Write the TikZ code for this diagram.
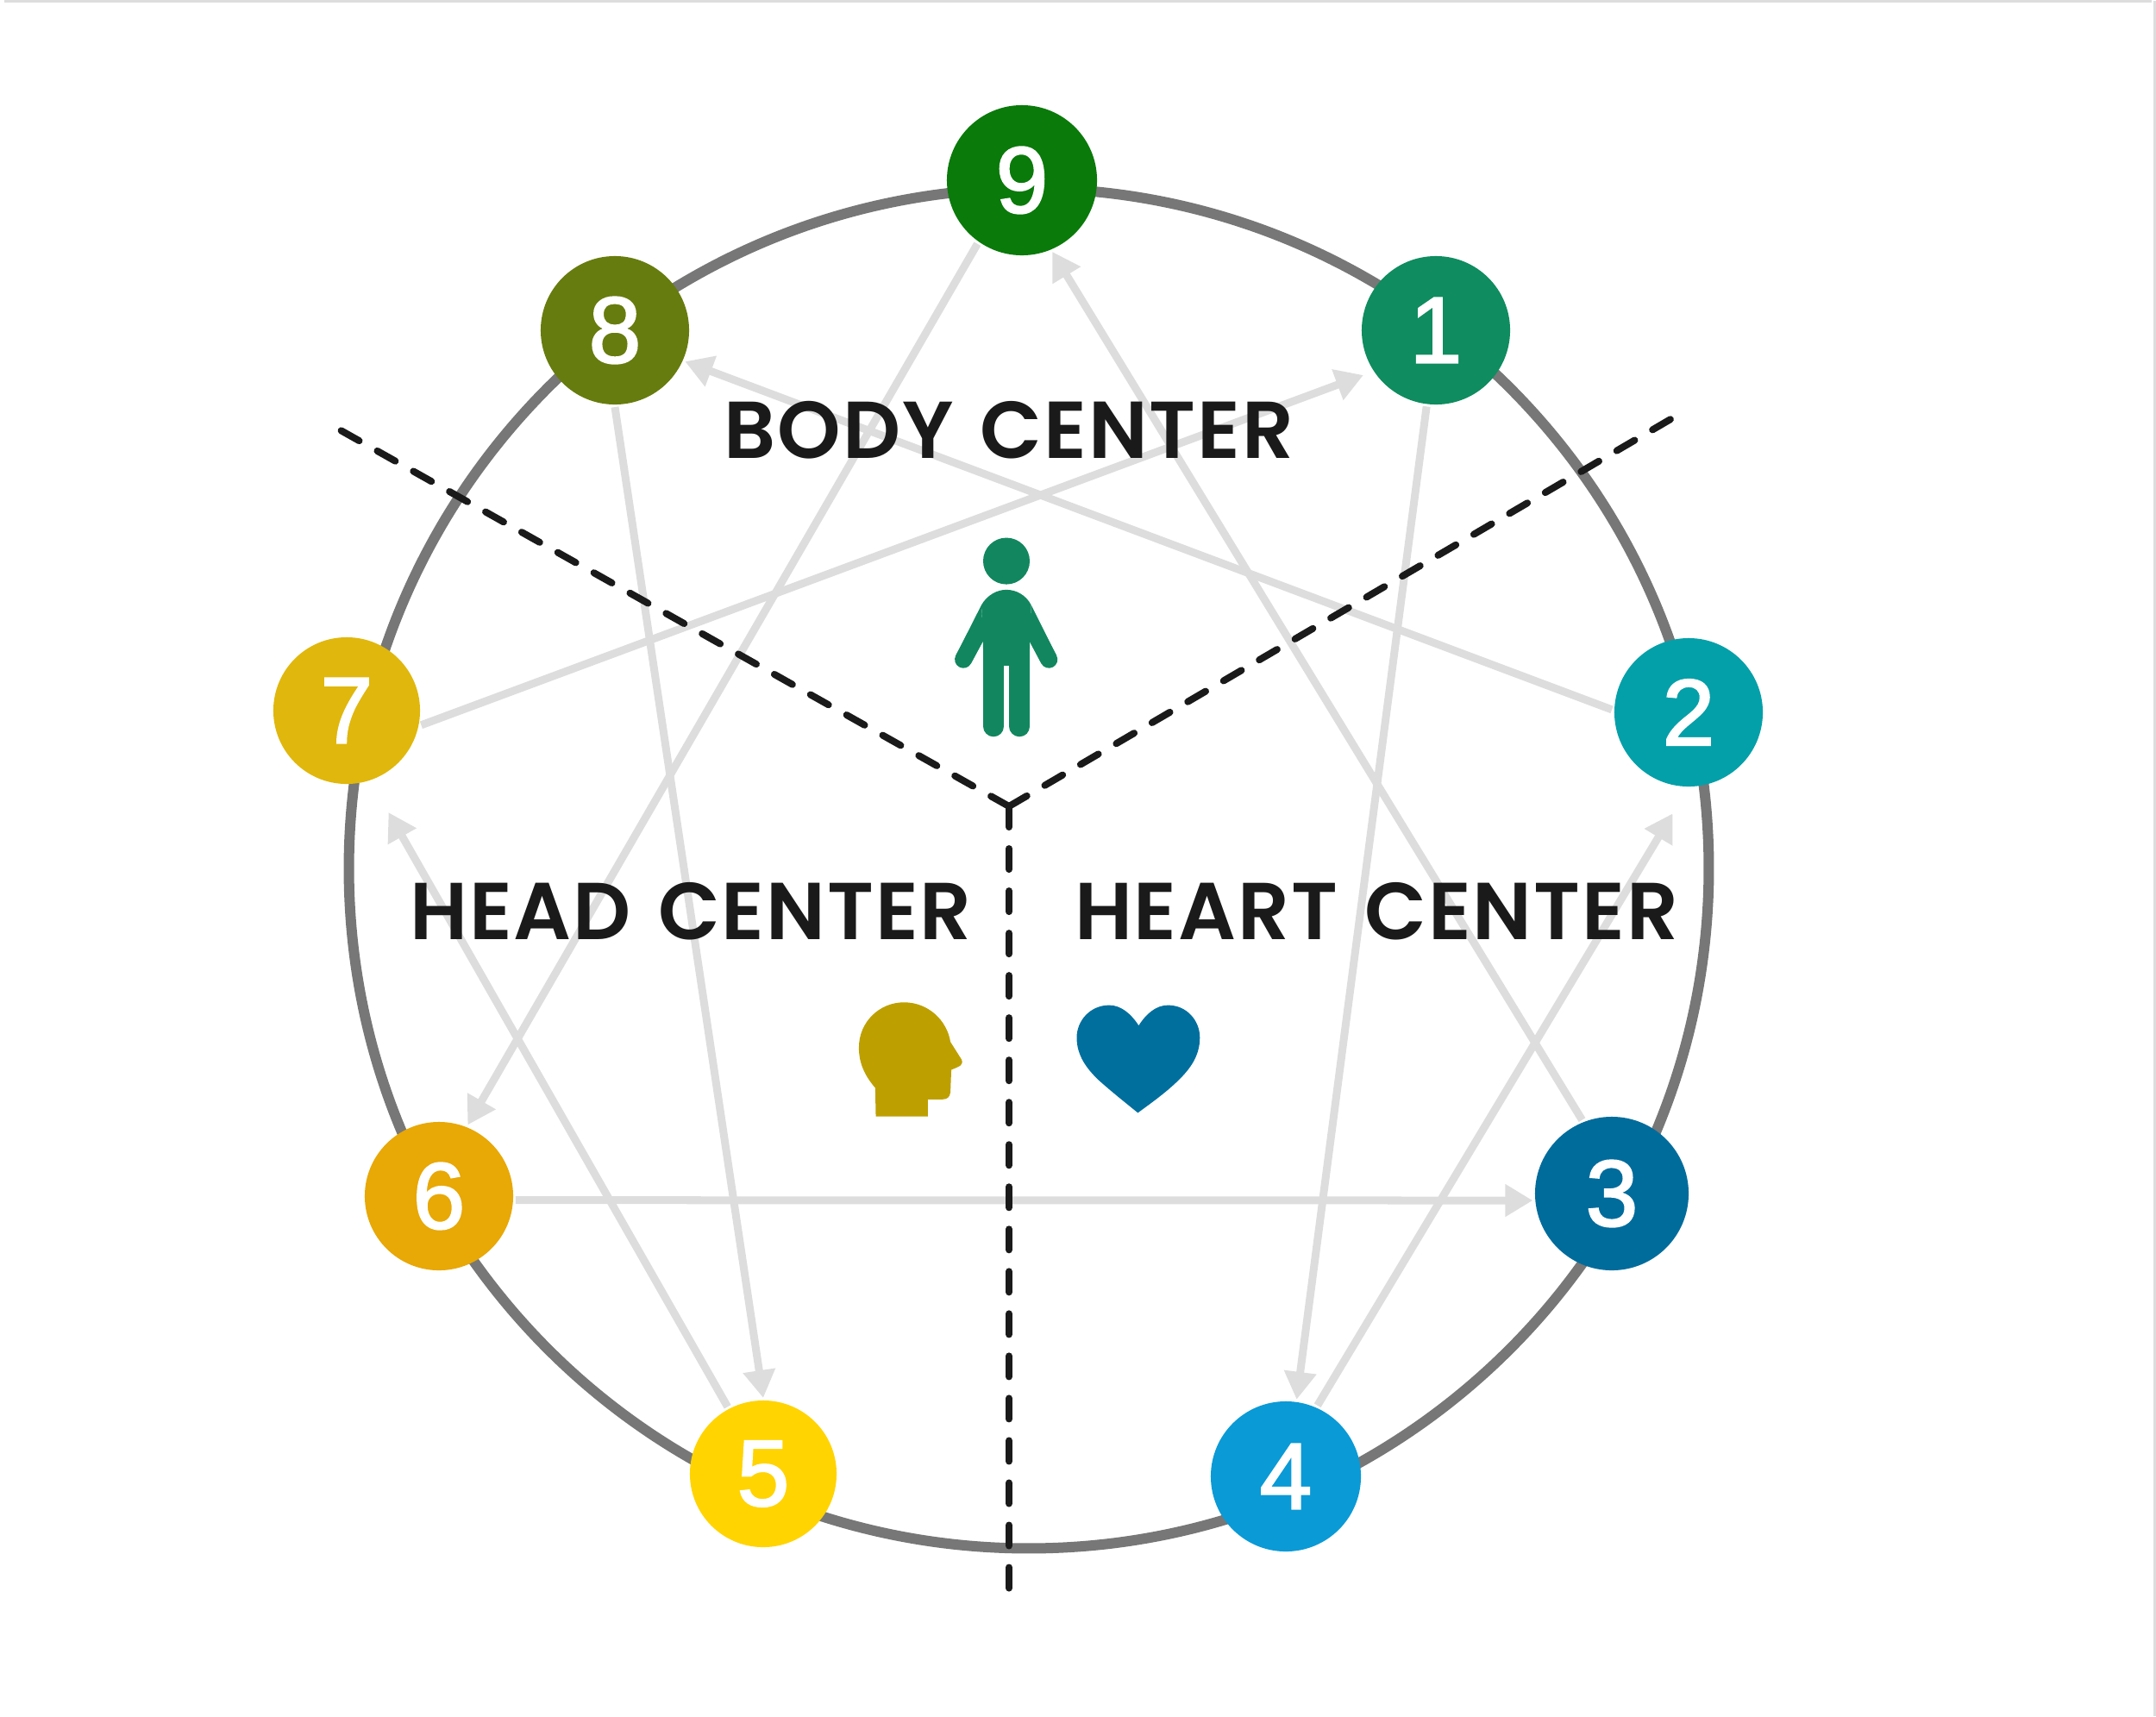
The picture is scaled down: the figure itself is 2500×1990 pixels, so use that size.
\documentclass[tikz,border=0pt]{standalone}
\usepackage{fontspec}
\usetikzlibrary{arrows.meta,backgrounds}
\newfontfamily\digitfont{Liberation Sans}[RawFeature={embolden=2}]
\newfontfamily\labelfont{Poppins SemiBold}[WordSpace=1.3,LetterSpace=2]
\definecolor{ringgray}{HTML}{777777}
\definecolor{linkgray}{HTML}{DDDDDD}
\definecolor{inkblack}{HTML}{1A1A1A}
\definecolor{cnine}{HTML}{0A7A0A}
\definecolor{ceight}{HTML}{677C0E}
\definecolor{cone}{HTML}{0F8C60}
\definecolor{ctwo}{HTML}{04A0A9}
\definecolor{cthree}{HTML}{006C9C}
\definecolor{cfour}{HTML}{0A9AD6}
\definecolor{cfive}{HTML}{FFD400}
\definecolor{csix}{HTML}{E8A805}
\definecolor{cseven}{HTML}{E0B70C}
\definecolor{cperson}{HTML}{12875F}
\definecolor{chead}{HTML}{BDA000}
\definecolor{cheart}{HTML}{006F9E}
\tikzset{
  numnode/.style={circle,inner sep=0pt,outer sep=0.03cm,minimum size=1.72cm,text=white,font=\digitfont\fontsize{31}{31}\selectfont},
  link/.style={draw=linkgray,line width=0.09cm,-{Triangle[width=0.36cm,length=0.32cm]}},
  divider/.style={draw=inkblack,line width=0.08cm,line cap=round,dash pattern=on 0.24cm off 0.24cm},
  centerlabel/.style={inner sep=0pt,text=inkblack,font=\labelfont\fontsize{26.6}{26.6}\selectfont},
  iconz1/.style={shift={(960,580)},x=0.003333cm,y=-0.003333cm},
  iconz2/.style={shift={(940,1120)},x=0.003333cm,y=-0.003333cm},
  limb/.style={draw=cperson,line cap=round},
}
\begin{document}
\begin{tikzpicture}[x=0.01cm,y=-0.01cm]
\useasboundingbox (0,0) rectangle (2500,1990);
% nodes
\node[numnode,fill=cnine,minimum size=1.74cm] (n9) at (1185,209) {9};
\node[numnode,fill=ceight] (n8) at (713,383) {8};
\node[numnode,fill=cone] (n1) at (1665,383) {1};
\node[numnode,fill=ctwo] (n2) at (1958,826) {2};
\node[numnode,fill=cseven,minimum size=1.7cm] (n7) at (402,824) {7};
\node[numnode,fill=cthree,minimum size=1.78cm] (n3) at (1869,1384) {3};
\node[numnode,fill=csix] (n6) at (509,1387) {6};
\node[numnode,fill=cfour,minimum size=1.74cm] (n4) at (1491,1712) {4};
\node[numnode,fill=cfive,minimum size=1.7cm] (n5) at (885,1709) {5};
\coordinate (hub) at (1170,935);
\coordinate (endl) at (395,499);
\coordinate (endr) at (1939,485);
\coordinate (endb) at (1170,1842);
\begin{scope}[on background layer]
  \draw[linkgray,line width=0.03cm] (5,1) -- (2495,1);
  \draw[linkgray,line width=0.03cm] (2498,1) -- (2498,1990);
  \node[circle,draw=ringgray,line width=0.12cm,minimum size=15.76cm,inner sep=0pt] (ring) at (1193,1007) {};
  \draw[link,shorten >=0.1cm] (n7.-11) -- (n1.-147);
  \draw[link] (n2.178) -- (n8.-24);
  \draw[link] (n8.-90) -- (n5.90);
  \draw[link,shorten >=0.4cm] (n5.118) -- (n7.-71);
  \draw[link] (n9.-125) -- (n6.68);
  \draw[link] (n6.-3) -- (n3.185);
  \draw[link] (n3.112) -- (n9.-67);
  \draw[link] (n1.-97) -- (n4.82);
  \draw[link,shorten >=0.33cm] (n4.66) -- (n2.-91);
  \draw[divider] (hub) -- (endl);
  \draw[divider] (hub) -- (endr);
  \draw[divider,dash pattern=on 0.24cm off 0.25cm] (hub) -- (endb);
\end{scope}
% labels
\node[centerlabel] (body) at (1170,499) {BODY CENTER};
\node[centerlabel] (headc) at (801,1057) {HEAD CENTER};
\node[centerlabel] (heartc) at (1596,1057) {HEART CENTER};
% person icon
\begin{scope}[iconz1]
  \fill[cperson] (622,212) circle [radius=0.27cm];
  \fill[cperson] (622,312) .. controls (590,312) and (555,330) .. (535,365)
    -- (541,520) -- (703,520) -- (708,365)
    .. controls (690,330) and (655,312) .. (622,312) -- cycle;
  \fill[cperson] (541,500) rectangle (703,578);
  \draw[limb,line width=0.24cm] (577,500) -- (577,788);
  \draw[limb,line width=0.24cm] (668,500) -- (668,788);
  \fill[cperson] (535,365) -- (541,490) -- (498,569) -- (446,541) -- cycle;
  \fill[cperson] (708,365) -- (703,490) -- (744,569) -- (796,541) -- cycle;
  \draw[limb,line width=0.2cm] (472,555) -- (520,465);
  \draw[limb,line width=0.2cm] (770,555) -- (722,465);
\end{scope}
% head icon
\begin{scope}[iconz2]
  \fill[chead] (227,525) -- (225,425) .. controls (190,385) and (168,340) .. (168,285)
    .. controls (168,195) and (240,127) .. (325,127)
    .. controls (410,127) and (475,190) .. (487,265)
    -- (525,325) .. controls (535,345) and (520,350) .. (490,362)
    -- (487,440) .. controls (485,458) and (475,465) .. (460,465)
    -- (408,465) -- (408,525) -- cycle;
\end{scope}
% heart icon
\begin{scope}[iconz2]
  \fill[cheart] (1143,208) .. controls (1115,165) and (1080,137) .. (1040,137)
    .. controls (975,137) and (927,190) .. (927,250)
    .. controls (927,315) and (965,360) .. (1000,395)
    .. controls (1050,440) and (1095,475) .. (1140,512)
    .. controls (1190,475) and (1240,440) .. (1285,395)
    .. controls (1320,360) and (1356,315) .. (1356,250)
    .. controls (1356,190) and (1310,137) .. (1245,137)
    .. controls (1205,137) and (1170,165) .. (1143,208) -- cycle;
\end{scope}
\end{tikzpicture}
\end{document}
